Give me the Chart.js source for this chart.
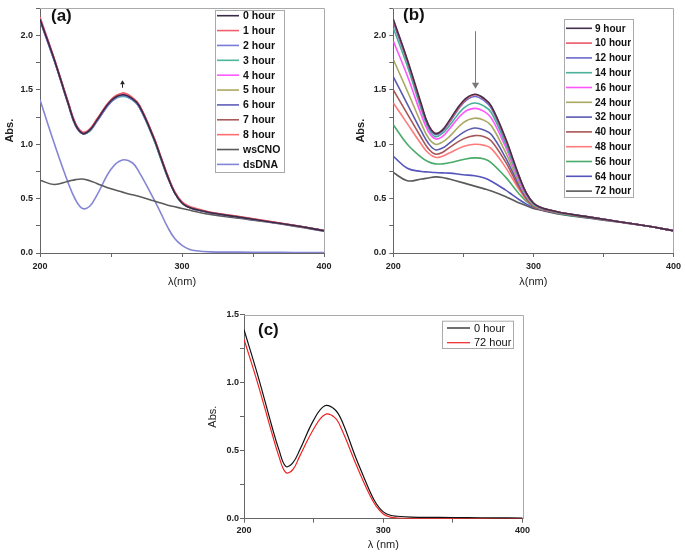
<!DOCTYPE html>
<html>
<head>
<meta charset="utf-8">
<script src="https://cdn.jsdelivr.net/npm/chart.js@4.4.0/dist/chart.umd.min.js"></script>
<style>
  html, body { margin: 0; padding: 0; background: #fff; }
  #wrap { position: relative; width: 685px; height: 556px; overflow: hidden; }
  canvas { position: absolute; }
</style>
</head>
<body>
<div id="wrap">
  <canvas id="chartA" width="340" height="295" style="left:0;top:0"></canvas>
  <canvas id="chartB" width="345" height="295" style="left:340px;top:0"></canvas>
  <canvas id="chartC" width="340" height="256" style="left:200px;top:300px"></canvas>
</div>
<script>
// wavelength grid (nm) shared by every spectrum
const wavelengths = [200, 210, 220, 225, 230, 235, 240, 250, 258, 265, 270, 280, 285, 290, 295, 300, 305, 310, 320, 340, 360, 380, 400];

// panel (a): 0-8 hour, wsCNO, dsDNA
const aLabels = ['0 hour', '1 hour', '2 hour', '3 hour', '4 hour', '5 hour', '6 hour', '7 hour', '8 hour', 'wsCNO', 'dsDNA'];
const a0h = [2.15, 1.78, 1.37, 1.18, 1.10, 1.13, 1.22, 1.40, 1.455, 1.42, 1.35, 1.06, 0.88, 0.70, 0.55, 0.46, 0.42, 0.40, 0.37, 0.33, 0.29, 0.25, 0.205];
const a1h = [2.16, 1.79, 1.38, 1.19, 1.11, 1.14, 1.23, 1.41, 1.47, 1.43, 1.36, 1.07, 0.89, 0.71, 0.56, 0.47, 0.425, 0.405, 0.375, 0.335, 0.295, 0.252, 0.207];
const a2h = [2.14, 1.77, 1.37, 1.18, 1.10, 1.13, 1.21, 1.39, 1.45, 1.41, 1.34, 1.06, 0.88, 0.70, 0.55, 0.46, 0.42, 0.40, 0.37, 0.33, 0.29, 0.25, 0.205];
const a3h = [2.15, 1.78, 1.37, 1.18, 1.10, 1.12, 1.22, 1.39, 1.44, 1.41, 1.34, 1.05, 0.87, 0.70, 0.55, 0.46, 0.42, 0.40, 0.37, 0.33, 0.29, 0.25, 0.205];
const a4h = [2.16, 1.78, 1.38, 1.19, 1.11, 1.13, 1.22, 1.40, 1.46, 1.42, 1.35, 1.06, 0.88, 0.70, 0.55, 0.46, 0.42, 0.40, 0.37, 0.33, 0.29, 0.25, 0.205];
const a5h = [2.15, 1.78, 1.37, 1.18, 1.10, 1.13, 1.22, 1.40, 1.45, 1.42, 1.35, 1.06, 0.88, 0.70, 0.55, 0.46, 0.42, 0.40, 0.37, 0.33, 0.29, 0.25, 0.205];
const a6h = [2.14, 1.77, 1.36, 1.17, 1.10, 1.12, 1.21, 1.39, 1.45, 1.41, 1.34, 1.05, 0.87, 0.69, 0.55, 0.46, 0.42, 0.40, 0.37, 0.33, 0.29, 0.25, 0.205];
const a7h = [2.15, 1.78, 1.37, 1.18, 1.10, 1.13, 1.22, 1.40, 1.46, 1.42, 1.35, 1.06, 0.88, 0.70, 0.55, 0.46, 0.42, 0.40, 0.37, 0.33, 0.29, 0.25, 0.205];
const a8h = [2.17, 1.79, 1.38, 1.19, 1.11, 1.14, 1.23, 1.41, 1.47, 1.43, 1.36, 1.07, 0.89, 0.71, 0.56, 0.47, 0.43, 0.41, 0.375, 0.335, 0.295, 0.253, 0.208];
const aWsCNO = [0.67, 0.63, 0.66, 0.675, 0.68, 0.665, 0.64, 0.59, 0.56, 0.535, 0.52, 0.48, 0.46, 0.44, 0.425, 0.41, 0.395, 0.38, 0.355, 0.32, 0.285, 0.245, 0.20];
const aDsDNA = [1.41, 1.01, 0.64, 0.49, 0.41, 0.43, 0.53, 0.77, 0.855, 0.83, 0.74, 0.50, 0.37, 0.235, 0.13, 0.07, 0.035, 0.02, 0.01, 0.008, 0.006, 0.005, 0.005];

// panel (b): 9-72 hour
const bLabels = ['9 hour', '10 hour', '12 hour', '14 hour', '16 hour', '24 hour', '32 hour', '40 hour', '48 hour', '56 hour', '64 hour', '72 hour'];
const b9h  = [2.15, 1.78, 1.37, 1.18, 1.10, 1.13, 1.22, 1.40, 1.46, 1.42, 1.35, 1.06, 0.88, 0.70, 0.55, 0.46, 0.42, 0.40, 0.37, 0.33, 0.29, 0.25, 0.205];
const b10h = [2.14, 1.77, 1.36, 1.18, 1.10, 1.13, 1.21, 1.39, 1.455, 1.415, 1.345, 1.05, 0.875, 0.70, 0.55, 0.46, 0.42, 0.40, 0.37, 0.33, 0.29, 0.25, 0.205];
const b12h = [2.12, 1.76, 1.35, 1.17, 1.09, 1.12, 1.20, 1.38, 1.44, 1.40, 1.33, 1.04, 0.865, 0.69, 0.545, 0.46, 0.42, 0.40, 0.37, 0.33, 0.29, 0.25, 0.205];
const b14h = [2.07, 1.72, 1.32, 1.15, 1.07, 1.10, 1.17, 1.33, 1.38, 1.35, 1.29, 1.01, 0.84, 0.68, 0.54, 0.45, 0.415, 0.40, 0.37, 0.33, 0.29, 0.25, 0.205];
const b16h = [1.95, 1.63, 1.27, 1.12, 1.05, 1.07, 1.14, 1.29, 1.33, 1.30, 1.24, 0.98, 0.82, 0.66, 0.53, 0.45, 0.415, 0.40, 0.37, 0.33, 0.29, 0.25, 0.205];
const b24h = [1.78, 1.49, 1.19, 1.06, 1.00, 1.02, 1.07, 1.20, 1.24, 1.22, 1.17, 0.93, 0.785, 0.64, 0.52, 0.44, 0.41, 0.395, 0.365, 0.33, 0.29, 0.25, 0.205];
const b32h = [1.62, 1.37, 1.12, 1.01, 0.95, 0.965, 1.01, 1.11, 1.15, 1.13, 1.09, 0.88, 0.75, 0.62, 0.51, 0.44, 0.41, 0.395, 0.365, 0.33, 0.29, 0.25, 0.205];
const b40h = [1.50, 1.28, 1.06, 0.96, 0.91, 0.925, 0.97, 1.05, 1.08, 1.07, 1.03, 0.84, 0.72, 0.60, 0.50, 0.43, 0.405, 0.39, 0.365, 0.33, 0.29, 0.25, 0.205];
const b48h = [1.38, 1.19, 1.00, 0.92, 0.88, 0.89, 0.92, 0.98, 1.00, 0.99, 0.96, 0.79, 0.685, 0.58, 0.49, 0.43, 0.405, 0.39, 0.365, 0.33, 0.29, 0.25, 0.205];
const b56h = [1.18, 1.00, 0.88, 0.84, 0.82, 0.82, 0.83, 0.86, 0.875, 0.865, 0.83, 0.70, 0.62, 0.54, 0.475, 0.43, 0.405, 0.39, 0.36, 0.325, 0.29, 0.25, 0.205];
const b64h = [0.89, 0.78, 0.75, 0.745, 0.74, 0.737, 0.735, 0.72, 0.71, 0.69, 0.66, 0.58, 0.535, 0.49, 0.45, 0.42, 0.40, 0.385, 0.36, 0.325, 0.29, 0.25, 0.205];
const b72h = [0.74, 0.665, 0.68, 0.69, 0.70, 0.695, 0.68, 0.645, 0.615, 0.59, 0.57, 0.52, 0.49, 0.46, 0.435, 0.41, 0.395, 0.38, 0.355, 0.32, 0.285, 0.25, 0.205];

// panel (c): dsDNA alone, 0 and 72 hour
const cLabels = ['0 hour', '72 hour'];
const c0h  = [1.39, 1.05, 0.68, 0.51, 0.385, 0.41, 0.505, 0.725, 0.83, 0.805, 0.725, 0.456, 0.33, 0.21, 0.11, 0.05, 0.025, 0.018, 0.012, 0.01, 0.008, 0.006, 0.005];
const c72h = [1.32, 0.99, 0.63, 0.46, 0.34, 0.36, 0.46, 0.66, 0.765, 0.745, 0.66, 0.41, 0.29, 0.18, 0.09, 0.035, 0.012, 0.005, 0.002, 0, 0, 0, 0];

Chart.defaults.font.family = "'Liberation Sans', Arial, sans-serif";
Chart.defaults.color = '#222';

function toPoints(ys) {
  return ys.map((y, i) => ({ x: wavelengths[i], y: y }));
}

// light frame on top and right of the plot area
const framePlugin = {
  id: 'frame',
  afterDatasetsDraw(chart) {
    const a = chart.chartArea, ctx = chart.ctx;
    ctx.save();
    ctx.strokeStyle = '#aaa';
    ctx.lineWidth = 1;
    ctx.beginPath();
    ctx.moveTo(Math.round(a.left), Math.round(a.top) + 0.5);
    ctx.lineTo(Math.round(a.right) + 0.5, Math.round(a.top) + 0.5);
    ctx.lineTo(Math.round(a.right) + 0.5, Math.round(a.bottom));
    ctx.stroke();
    ctx.restore();
  }
};

// boxed legend drawn inside the plot
const boxLegend = {
  id: 'boxLegend',
  afterDraw(chart) {
    const o = chart.options.plugins.boxLegend;
    if (!o) return;
    const ctx = chart.ctx;
    ctx.save();
    ctx.fillStyle = '#fff';
    ctx.fillRect(o.x, o.y, o.w, o.h);
    ctx.strokeStyle = '#aaa';
    ctx.lineWidth = 1;
    ctx.strokeRect(o.x + 0.5, o.y + 0.5, o.w, o.h);
    ctx.font = o.font;
    ctx.textBaseline = 'middle';
    chart.data.datasets.forEach((ds, i) => {
      const y = o.firstY + i * o.rowH;
      ctx.strokeStyle = ds.borderColor;
      ctx.lineWidth = o.lineW;
      ctx.beginPath();
      ctx.moveTo(o.lineX0, y);
      ctx.lineTo(o.lineX1, y);
      ctx.stroke();
      ctx.fillStyle = '#111';
      ctx.fillText(ds.label, o.textX, y + 0.5);
    });
    ctx.restore();
  }
};

// panel letter and arrow
const marks = {
  id: 'marks',
  afterDraw(chart) {
    const o = chart.options.plugins.marks;
    if (!o) return;
    const ctx = chart.ctx;
    ctx.save();
    ctx.fillStyle = '#111';
    ctx.font = 'bold 17px "Liberation Sans", Arial, sans-serif';
    ctx.textBaseline = 'middle';
    ctx.fillText(o.tag, o.tagX, o.tagY);
    if (o.arrow) {
      const xs = chart.scales.x, ys = chart.scales.y;
      const x = Math.round(xs.getPixelForValue(o.arrow.x)) + 0.5;
      const y0 = ys.getPixelForValue(o.arrow.from);
      const y1 = ys.getPixelForValue(o.arrow.to);
      const dir = y1 > y0 ? 1 : -1;
      ctx.strokeStyle = o.arrow.color;
      ctx.fillStyle = o.arrow.color;
      ctx.lineWidth = 1;
      ctx.beginPath();
      ctx.moveTo(x, y0);
      ctx.lineTo(x, y1 - dir * o.arrow.head);
      ctx.stroke();
      ctx.beginPath();
      ctx.moveTo(x, y1);
      ctx.lineTo(x - o.arrow.head * 0.6, y1 - dir * o.arrow.head);
      ctx.lineTo(x + o.arrow.head * 0.6, y1 - dir * o.arrow.head);
      ctx.closePath();
      ctx.fill();
    }
    ctx.restore();
  }
};

function halfLabel(v) {
  return Math.abs(v * 2 - Math.round(v * 2)) < 1e-6 ? v.toFixed(1) : '';
}

function makeChart(id, labels, series, colors, cfg) {
  const datasets = series.map((ys, i) => ({
    label: labels[i],
    data: toPoints(ys),
    borderColor: colors[i],
    borderWidth: cfg.lineW,
    pointRadius: 0,
    fill: false,
    tension: 0.4
  }));
  return new Chart(document.getElementById(id), {
    type: 'line',
    data: { datasets: datasets },
    plugins: [framePlugin, boxLegend, marks],
    options: {
      responsive: false,
      animation: false,
      layout: { padding: cfg.padding },
      plugins: {
        legend: { display: false },
        tooltip: { enabled: false },
        boxLegend: cfg.legend,
        marks: cfg.marks
      },
      scales: {
        x: {
          type: 'linear',
          min: 200, max: 400,
          afterFit(s) { s.height = cfg.xAxisH; },
          border: { color: '#666', width: 1 },
          grid: { drawOnChartArea: false, tickLength: 4, color: '#666' },
          ticks: {
            stepSize: 50, autoSkip: false, maxRotation: 0, padding: cfg.xTickPad,
            font: { size: 9, weight: 'bold' }, color: '#222',
            callback: v => (v % 100 === 0 ? String(v) : '')
          },
          title: {
            display: true, text: cfg.xTitle, color: '#222',
            font: { size: 11 }, padding: { top: 0, bottom: cfg.xTitlePad }
          }
        },
        y: {
          type: 'linear',
          min: 0, max: cfg.yMax,
          afterFit(s) { s.width = cfg.yAxisW; },
          border: { color: '#666', width: 1 },
          grid: { drawOnChartArea: false, tickLength: 4, color: '#666' },
          ticks: {
            stepSize: 0.25, autoSkip: false, padding: cfg.yTickPad,
            font: { size: 9, weight: 'bold' }, color: '#222',
            callback: halfLabel
          },
          title: {
            display: true, text: 'Abs.', color: '#222',
            font: { size: 11, weight: cfg.yTitleWeight }, padding: { top: cfg.yTitlePad, bottom: 0 }
          }
        }
      }
    }
  });
}

document.addEventListener('DOMContentLoaded', function() {
  makeChart('chartA', aLabels,
    [a0h, a1h, a2h, a3h, a4h, a5h, a6h, a7h, a8h, aWsCNO, aDsDNA],
    ['#3a2a45', '#f0606e', '#7a7ad8', '#4fb59c', '#ff5cff', '#aaa860', '#5f5fb8', '#a85a5a', '#ff6f6f', '#5a5a5a', '#8585d6'],
    {
      padding: { left: 0, right: 16, top: 1, bottom: 0 },
      yAxisW: 40, xAxisH: 42, yMax: 2.25, lineW: 1.6,
      xTickPad: 4, yTickPad: 3, xTitlePad: 6, yTitlePad: 3,
      xTitle: 'λ(nm)', yTitleWeight: 'bold',
      legend: { x: 215, y: 10, w: 69, h: 162, firstY: 15.7, rowH: 14.87,
                lineX0: 217, lineX1: 239, textX: 243, lineW: 1.6,
                font: 'bold 10.5px "Liberation Sans", Arial, sans-serif' },
      marks: { tag: '(a)', tagX: 51, tagY: 16,
               arrow: { x: 258, from: 1.52, to: 1.59, head: 4, color: '#222' } }
    });

  makeChart('chartB', bLabels,
    [b9h, b10h, b12h, b14h, b16h, b24h, b32h, b40h, b48h, b56h, b64h, b72h],
    ['#44304a', '#e85a6a', '#6a6acf', '#4ab09a', '#ff55ff', '#a8a860', '#5a5ab0', '#a85555', '#ff7a7a', '#4aaa6a', '#5555bb', '#5a5a5a'],
    {
      padding: { left: 11, right: 11, top: 1, bottom: 0 },
      yAxisW: 42.3, xAxisH: 42, yMax: 2.25, lineW: 1.6,
      xTickPad: 4, yTickPad: 3, xTitlePad: 6, yTitlePad: 3,
      xTitle: 'λ(nm)', yTitleWeight: 'bold',
      legend: { x: 224, y: 19, w: 69, h: 178, firstY: 28.3, rowH: 14.8,
                lineX0: 226, lineX1: 252, textX: 255, lineW: 1.6,
                font: 'bold 10px "Liberation Sans", Arial, sans-serif' },
      marks: { tag: '(b)', tagX: 63, tagY: 15,
               arrow: { x: 258, from: 2.04, to: 1.51, head: 6, color: '#777' } }
    });

  makeChart('chartC', cLabels,
    [c0h, c72h],
    ['#111111', '#ee2222'],
    {
      padding: { left: 0, right: 17.4, top: 14.7, bottom: 0 },
      yAxisW: 44, xAxisH: 37.3, yMax: 1.5, lineW: 1.2,
      xTickPad: 2, yTickPad: 1, xTitlePad: 4, yTitlePad: 6,
      xTitle: 'λ (nm)', yTitleWeight: 'normal',
      legend: { x: 242, y: 20.7, w: 71, h: 27.3, firstY: 28, rowH: 14.7,
                lineX0: 247, lineX1: 270, textX: 274, lineW: 1.2,
                font: '11px "Liberation Sans", Arial, sans-serif' },
      marks: { tag: '(c)', tagX: 58, tagY: 30 }
    });
});
</script>
</body>
</html>
